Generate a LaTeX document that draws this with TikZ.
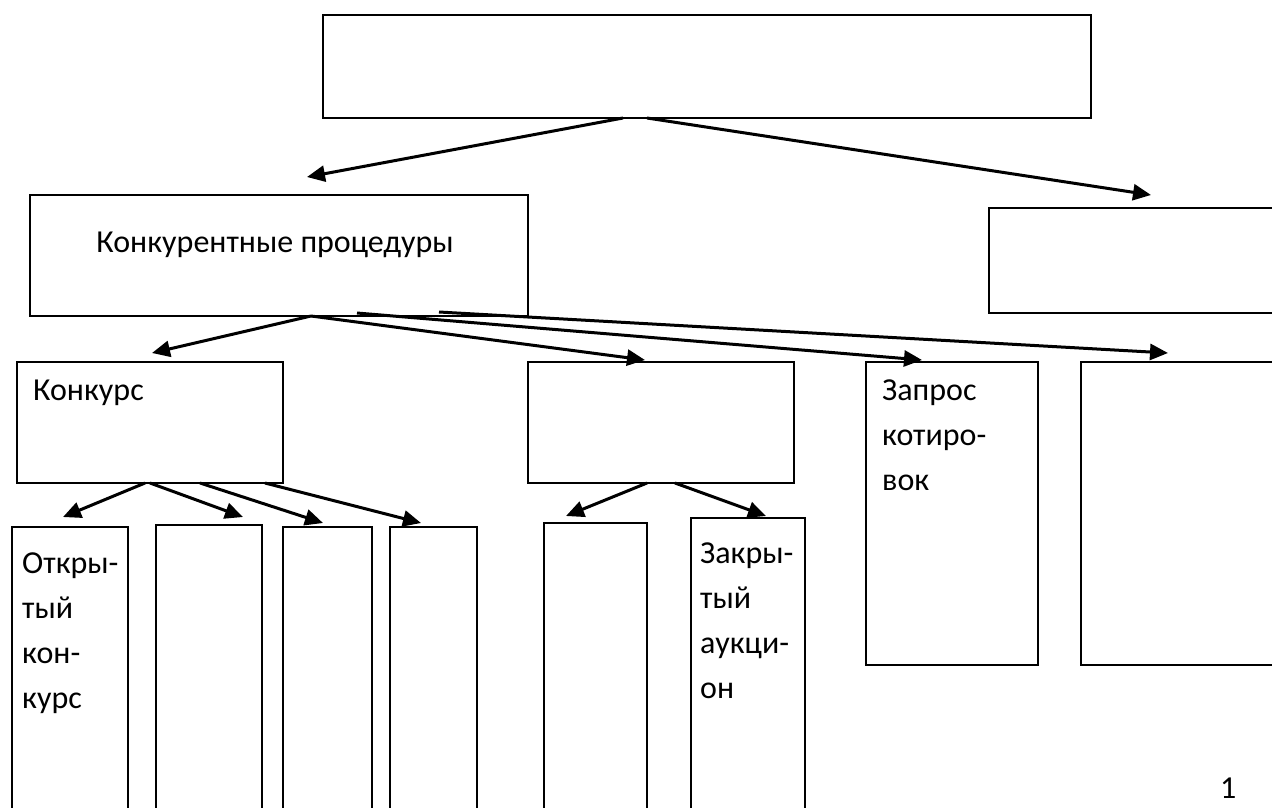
\documentclass[tikz,border=0pt]{standalone}
\usepackage{fontspec}
\setmainfont{Carlito}
\usepackage{tikz}
\usetikzlibrary{arrows.meta}
\tikzset{>={Triangle[length=18pt,width=16pt]}}
\tikzset{box/.style={draw,line width=2.2pt,anchor=north west,inner sep=0pt,outer sep=0pt}}
\tikzset{word/.style={anchor=base west,inner sep=0pt}}
\tikzset{link/.style={->,line width=3pt}}

\begin{document}
\begin{tikzpicture}[x=1pt,y=-1pt,font=\fontsize{32}{45}\selectfont]
                    \useasboundingbox (0,0) rectangle (1272,807);
                    \clip (0,0) rectangle (1272,807);

                    \node[box,minimum width=768pt,minimum height=103pt] (T) at (323,15) {};
                    \node[box,minimum width=498pt,minimum height=121pt] (L) at (30,195) {};
                    \node[box,minimum width=400pt,minimum height=105pt] (R) at (989,208) {};

                    \node[box,minimum width=266pt,minimum height=121pt] (K) at (17,362) {};
                    \node[box,minimum width=266pt,minimum height=121pt] (M) at (528,362) {};
                    \node[box,minimum width=172pt,minimum height=303pt] (Z) at (866,362) {};
                    \node[box,minimum width=300pt,minimum height=303pt] (P) at (1081,362) {};

                    \node[box,minimum width=116pt,minimum height=320pt] (B1) at (12,527) {};
                    \node[box,minimum width=106pt,minimum height=320pt] (B2) at (156,525) {};
                    \node[box,minimum width=89pt,minimum height=320pt] (B3) at (283,527) {};
                    \node[box,minimum width=87pt,minimum height=320pt] (B4) at (390,527) {};
                    \node[box,minimum width=103pt,minimum height=320pt] (B5) at (544,523) {};
                    \node[box,minimum width=114pt,minimum height=320pt] (B6) at (691,518) {};

                    \node[anchor=base,inner sep=0pt] (Ltxt) at (275,252) {Конкурентные процедуры};
                    \node[word] (Ktxt) at (33,400) {Конкурс};
                    \foreach \w [count=\i from 0] in {Запрос,котиро-,вок}
                        \node[word] (Z\i) at (882,400+45*\i) {\w};
                    \foreach \w [count=\i from 0] in {Откры-,тый,кон-,курс}
                        \node[word] (O\i) at (22,573+45*\i) {\w};
                    \foreach \w [count=\i from 0] in {Закры-,тый,аукци-,он}
                        \node[word] (C\i) at (700,563+45*\i) {\w};
                    \node[word] (pg) at (1220,798) {1};

                    \draw[link] ([xshift=300pt]T.south west) -- ([xshift=277pt,yshift=18pt]L.north west);
                    \draw[link] ([xshift=324pt]T.south west) -- ([xshift=162pt,yshift=13pt]R.north west);

                    \draw[link] ([xshift=281pt]L.south west) -- ([xshift=135pt,yshift=9pt]K.north west);
                    \draw[link] ([xshift=281pt]L.south west) -- ([xshift=117pt,yshift=2pt]M.north west);
                    \draw[link] ([xshift=327pt,yshift=3pt]L.south west) -- ([xshift=56pt,yshift=2pt]Z.north west);
                    \draw[link] ([xshift=409pt,yshift=4pt]L.south west) -- ([xshift=87pt,yshift=9pt]P.north west);

                    \draw[link] ([xshift=128pt]K.south west) -- ([xshift=51pt,yshift=10pt]B1.north west);
                    \draw[link] ([xshift=133pt]K.south west) -- ([xshift=87pt,yshift=8pt]B2.north west);
                    \draw[link] ([xshift=183pt]K.south west) -- ([xshift=40pt,yshift=4pt]B3.north west);
                    \draw[link] ([xshift=248pt]K.south west) -- ([xshift=31pt,yshift=4pt]B4.north west);

                    \draw[link] ([xshift=119pt]M.south west) -- ([xshift=22pt,yshift=7pt]B5.north west);
                    \draw[link] ([xshift=147pt]M.south west) -- ([xshift=75pt,yshift=2pt]B6.north west);
                \end{tikzpicture}
\end{document}
